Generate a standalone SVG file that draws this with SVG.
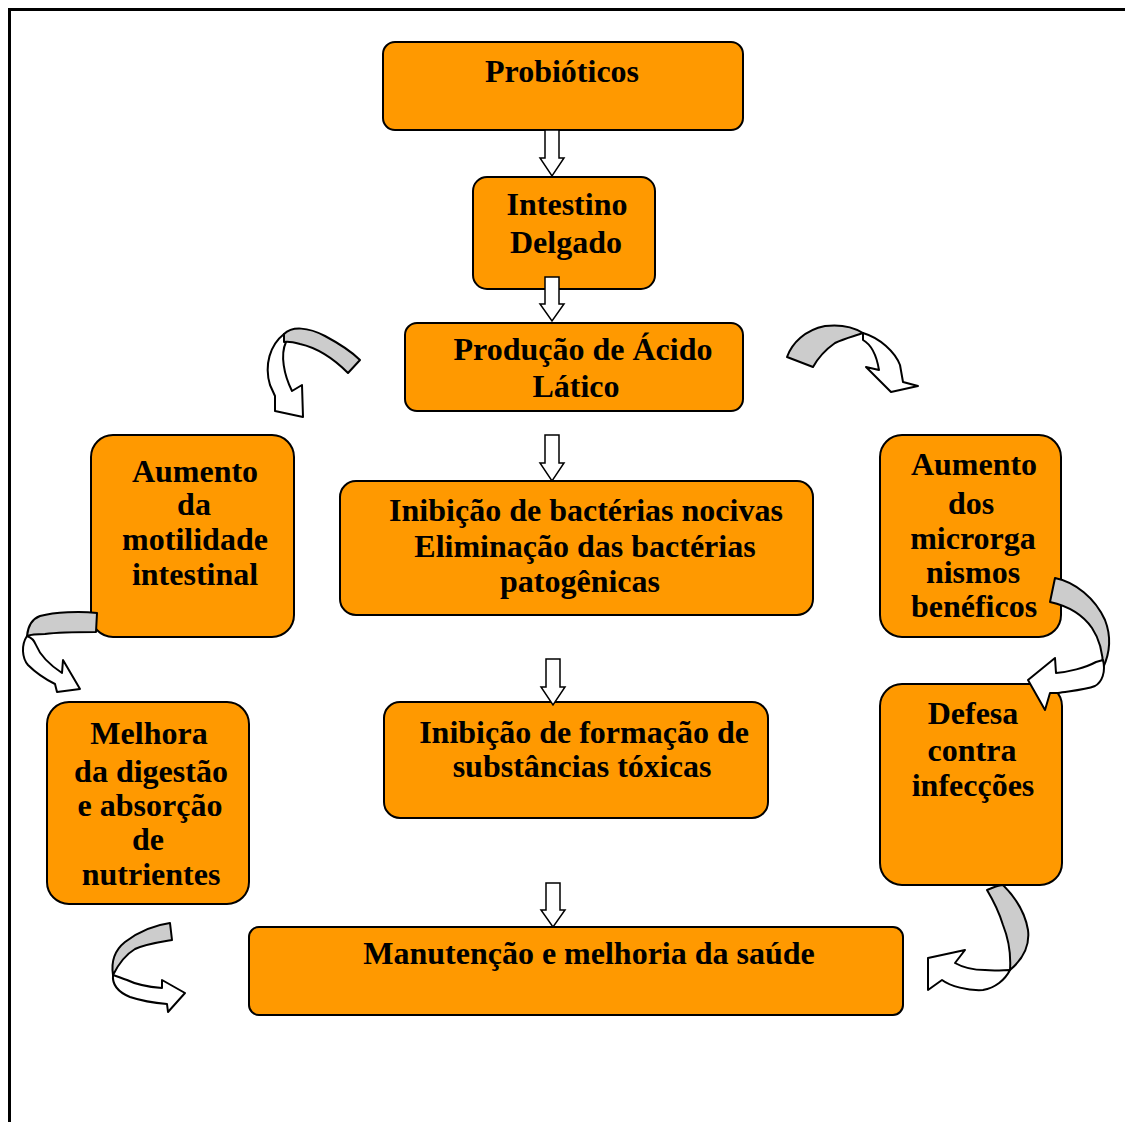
<svg xmlns="http://www.w3.org/2000/svg" width="1125" height="1122" viewBox="0 0 1125 1122">
<style>
.box{fill:#FF9900;stroke:#000;stroke-width:2}
.t{font-family:"Liberation Serif","Times New Roman",serif;font-weight:bold;font-size:32px;fill:#000;text-anchor:middle}
.ba{fill:#fff;stroke:#000;stroke-width:1.5;stroke-linejoin:miter}
.g{fill:#cccccc;stroke:#000;stroke-width:2;stroke-linejoin:round}
.w{fill:#fff;stroke:#000;stroke-width:2;stroke-linejoin:round}
</style>
<rect width="1125" height="1122" fill="#fff"/>
<path d="M9.5 1122 V9.5 H1125" fill="none" stroke="#000" stroke-width="3"/>

<g id="probioticos"><rect class="box" x="383" y="42" width="360" height="88" rx="12"/><text class="t" x="562" y="82">Probióticos</text></g>
<g id="intestino"><rect class="box" x="473" y="177" width="182" height="112" rx="14"/><text class="t" x="567" y="215">Intestino</text><text class="t" x="566" y="253">Delgado</text></g>
<g id="acido"><rect class="box" x="405" y="323" width="338" height="88" rx="12"/><text class="t" x="583" y="360">Produção de Ácido</text><text class="t" x="576" y="397">Lático</text></g>
<g id="motilidade"><rect class="box" x="91" y="435" width="203" height="202" rx="22"/><text class="t" x="195" y="482">Aumento</text><text class="t" x="194" y="515">da</text><text class="t" x="195" y="550">motilidade</text><text class="t" x="195" y="585">intestinal</text></g>
<g id="inibicao"><rect class="box" x="340" y="481" width="473" height="134" rx="16"/><text class="t" x="586" y="521">Inibição de bactérias nocivas</text><text class="t" x="585" y="557">Eliminação das bactérias</text><text class="t" x="580" y="592">patogênicas</text></g>
<g id="microrganismos"><rect class="box" x="880" y="435" width="181" height="202" rx="22"/><text class="t" x="974" y="475">Aumento</text><text class="t" x="971" y="514">dos</text><text class="t" x="973" y="549">microrga</text><text class="t" x="973" y="583">nismos</text><text class="t" x="974" y="617">benéficos</text></g>
<g id="digestao"><rect class="box" x="47" y="702" width="202" height="202" rx="22"/><text class="t" x="149" y="744">Melhora</text><text class="t" x="151" y="782">da digestão</text><text class="t" x="150" y="816">e absorção</text><text class="t" x="148" y="850">de</text><text class="t" x="151" y="885">nutrientes</text></g>
<g id="toxicas"><rect class="box" x="384" y="702" width="384" height="116" rx="16"/><text class="t" x="584" y="743">Inibição de formação de</text><text class="t" x="582" y="777">substâncias tóxicas</text></g>
<g id="defesa"><rect class="box" x="880" y="684" width="182" height="201" rx="22"/><text class="t" x="973" y="724">Defesa</text><text class="t" x="972" y="761">contra</text><text class="t" x="973" y="796">infecções</text></g>
<g id="saude"><rect class="box" x="249" y="927" width="654" height="88" rx="10"/><text class="t" x="589" y="964">Manutenção e melhoria da saúde</text></g>

<g id="connectors">
<path class="ba" d="M545 130 V158 H540 L552 176 L564 158 H559 V130 Z"/>
<path class="ba" d="M545 277 V304 H540 L552 321 L564 304 H559 V277 Z"/>
<path class="ba" d="M545 435 V463 H540 L552 481 L564 463 H559 V435 Z"/>
<path class="ba" d="M546 659 V687 H541 L553 705 L565 687 H560 V659 Z"/>
<path class="ba" d="M546 883 V910 H541 L553 927 L565 910 H560 V883 Z"/>

<!-- curved arrow top-left -->
<path class="w" d="M284 334 C270 345 264 365 270 385 L275 396 L275 411 L303 417 L302 385 L292 391 C284 375 280 355 286 342 Z"/>
<path class="g" d="M284 334 C292 326 308 327 325 336 C340 344 352 352 360 360 L348 373 C335 360 318 348 300 344 C293 342 288 341 284 342 Z"/>

<!-- curved arrow top-right -->
<path class="g" d="M787 357 C792 343 805 330 825 326 C842 324 855 328 863 333 C855 336 845 338 835 343 C825 350 818 358 813 367 Z"/>
<path class="w" d="M863 333 C880 338 895 352 900 365 L903 382 L918 386 L891 392 L866 367 L879 370 C877 358 872 345 863 340 Z"/>

<!-- curved arrow left -->
<path class="g" d="M97 613 C80 611 55 612 40 616 C32 619 28 625 27 636 C32 634 38 634 45 634 C60 632 80 632 96 632 Z"/>
<path class="w" d="M27 636 C21 645 22 658 28 665 C37 674 47 680 55 684 L57 692 L80 689 L63 660 L62 673 C50 665 40 655 36 645 C34 640 30 637 27 636 Z"/>

<!-- curved arrow right -->
<path class="g" d="M1055 578 C1075 582 1095 598 1105 620 C1112 638 1109 655 1103 668 C1103 655 1100 640 1092 628 C1083 615 1068 606 1050 602 Z"/>
<path class="w" d="M1103 660 C1106 672 1102 682 1095 686 C1085 690 1070 691 1058 693 L1050 693 L1045 710 L1028 680 L1055 658 L1056 673 C1068 672 1085 668 1096 662 Z"/>

<!-- curved arrow bottom-left -->
<path class="g" d="M170 923 C155 925 138 932 125 942 C115 950 111 962 113 975 C118 965 125 955 135 949 C146 944 160 942 172 940 Z"/>
<path class="w" d="M113 975 C112 985 118 992 130 997 C142 1001 155 1003 167 1004 L168 1012 L185 993 L162 980 L162 988 C150 987 137 985 127 980 C121 978 117 976 113 975 Z"/>

<!-- curved arrow bottom-right -->
<path class="g" d="M987 890 C995 887 998 885 1003 885 C1015 897 1025 912 1028 930 C1030 946 1022 960 1010 970 C1011 955 1009 940 1003 925 C999 912 993 900 987 890 Z"/>
<path class="w" d="M1010 970 C1005 980 995 988 983 990 C968 991 950 986 942 980 L928 990 L928 958 L965 950 L955 963 C962 967 972 970 985 970 C995 971 1004 970 1010 970 Z"/>
</g>
</svg>
